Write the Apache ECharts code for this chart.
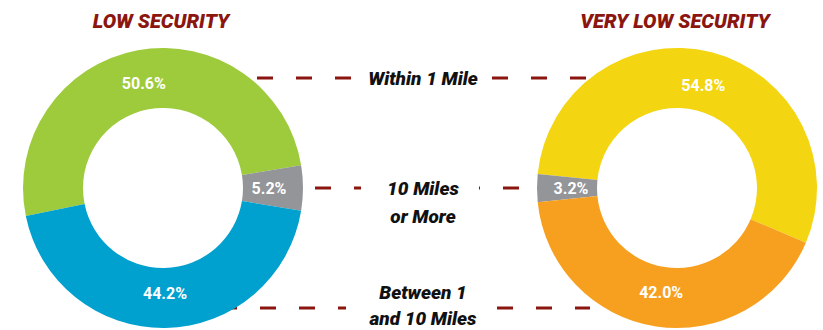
<!DOCTYPE html>
<html>
<head>
<meta charset="utf-8">
<script src="https://cdn.jsdelivr.net/npm/echarts@6/dist/echarts.min.js"></script>
<style>
html,body{margin:0;padding:0;background:#fff;}
#chart{width:823px;height:330px;}
</style>
</head>
<body>
<div id="chart"></div>
<script>
const categories = ['Within 1 Mile', '10 Miles or More', 'Between 1 and 10 Miles'];
const lowSecurity = [50.6, 5.2, 44.2];
const veryLowSecurity = [54.8, 3.2, 42.0];
const groupTitles = ['LOW SECURITY', 'VERY LOW SECURITY'];
const middleLabels = ['Within 1 Mile', '10 Miles\nor More', 'Between 1\nand 10 Miles'];
const lowColors = ['#9ECB3C', '#939598', '#00A0CF'];
const veryLowColors = ['#F4D511', '#939598', '#F7A01F'];

const DARK_RED = '#8B1610';
const FONT = 'Roboto, "Noto Sans", sans-serif';

function pieData(values, colors) {
  return values.map((v, i) => ({ name: categories[i], value: v, itemStyle: { color: colors[i] } }));
}
function labelData(values) {
  return values.map((v, i) => ({ name: categories[i], value: v }));
}

const labelStyle = {
  show: true,
  position: 'inside',
  color: '#fff',
  fontFamily: FONT,
  fontWeight: 'bold',
  fontSize: 16,
  formatter: p => p.value.toFixed(1) + '%'
};

function ringSeries(name, values, colors, cx, start, cw) {
  return [
    {
      type: 'pie', name: name, center: [cx, 188], radius: [80, 140],
      startAngle: start, clockwise: cw, silent: true,
      label: { show: false }, labelLine: { show: false },
      emphasis: { disabled: true },
      data: pieData(values, colors)
    },
    {
      type: 'pie', name: name + ' labels', center: [cx, 188], radius: [80, 126],
      startAngle: start, clockwise: cw, silent: true, z: 3,
      itemStyle: { color: 'rgba(0,0,0,0)' },
      label: labelStyle, labelLine: { show: false },
      emphasis: { disabled: true },
      data: labelData(values)
    }
  ];
}

const dash = { stroke: DARK_RED, lineWidth: 3, lineDash: [16, 23] };
function seg(x1, x2, y) {
  return { type: 'line', z: -1, shape: { x1: x1, y1: y, x2: x2, y2: y }, style: Object.assign({}, dash) };
}
const titleFont = 'italic 900 20px ' + FONT;
const midFont = 'italic 900 19px ' + FONT;

const chart = echarts.init(document.getElementById('chart'), null, { renderer: 'svg' });
chart.setOption({
  animation: false,
  backgroundColor: '#fff',
  series: [].concat(
    ringSeries(groupTitles[0], lowSecurity, lowColors, 163, 191.5, true),
    ringSeries(groupTitles[1], veryLowSecurity, veryLowColors, 677, -23, false)
  ),
  graphic: [
    seg(257, 362, 78), seg(492, 592, 78),
    seg(315, 361, 188), seg(519, 479, 188),
    seg(221, 346, 308), seg(497, 590, 308),
    { type: 'text', x: 161, y: 21, style: { text: groupTitles[0], fill: DARK_RED, font: titleFont, textAlign: 'center', textVerticalAlign: 'middle' } },
    { type: 'text', x: 675, y: 21, style: { text: groupTitles[1], fill: DARK_RED, font: titleFont, textAlign: 'center', textVerticalAlign: 'middle' } },
    { type: 'text', x: 423, y: 78, style: { text: middleLabels[0], fill: '#111', font: midFont, textAlign: 'center', textVerticalAlign: 'middle' } },
    { type: 'text', x: 423, y: 202, style: { text: middleLabels[1], fill: '#111', font: midFont, lineHeight: 28, textAlign: 'center', textVerticalAlign: 'middle' } },
    { type: 'text', x: 423, y: 305, style: { text: middleLabels[2], fill: '#111', font: midFont, lineHeight: 26, textAlign: 'center', textVerticalAlign: 'middle' } }
  ]
});
</script>
</body>
</html>
